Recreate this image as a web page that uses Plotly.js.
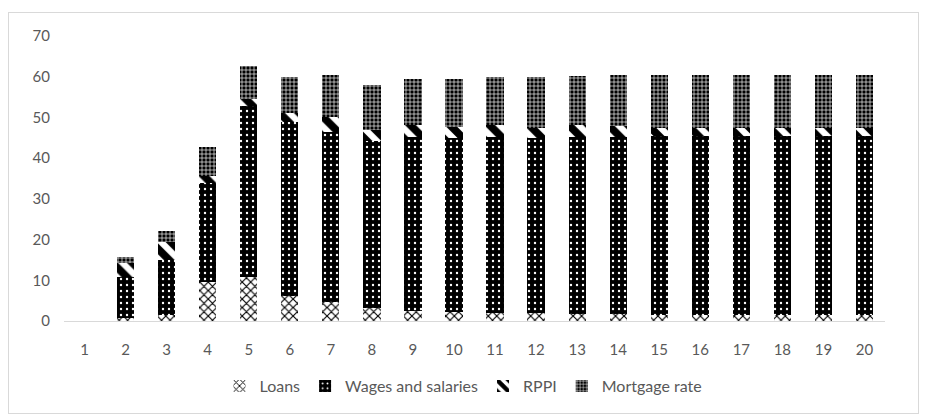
<!DOCTYPE html>
<html>
<head>
<meta charset="utf-8">
<script src="https://cdn.plot.ly/plotly-3.0.1.min.js"></script>
<style>
html,body{margin:0;padding:0;background:#fff;}
#frame{position:absolute;left:8px;top:12px;width:911px;height:402px;border:1px solid #d9d9d9;box-sizing:border-box;pointer-events:none;z-index:5;}
#chart{position:absolute;left:0;top:0;width:927px;height:418px;}
</style>
</head>
<body>
<div id="chart"></div>
<div id="frame"></div>
<script>
const categories = ["1","2","3","4","5","6","7","8","9","10","11","12","13","14","15","16","17","18","19","20"];
const loans    = [0, 0.7, 1.5, 9.5, 10.7, 6.1, 4.7, 3.3, 2.5, 2.1, 1.9, 1.9, 1.6, 1.6, 1.5, 1.5, 1.5, 1.5, 1.5, 1.5];
const wages    = [0, 10.1, 13.5, 24.3, 42.0, 42.9, 41.8, 40.8, 42.6, 42.8, 43.2, 43.0, 43.5, 43.5, 44.0, 44.0, 44.0, 44.0, 44.0, 44.0];
const rppi     = [0, 3.5, 4.5, 1.7, 1.8, 2.0, 3.7, 2.8, 3.1, 2.8, 3.1, 2.4, 3.1, 2.8, 2.0, 2.0, 2.0, 2.0, 2.0, 2.0];
const mortgage = [0, 1.4, 2.7, 7.3, 8.2, 9.0, 10.1, 11.1, 11.2, 11.8, 11.8, 12.6, 12.0, 12.4, 13.0, 13.0, 13.0, 13.0, 13.0, 13.0];
const yTicks = [0, 10, 20, 30, 40, 50, 60, 70];

const font = "Lato, 'Open Sans', sans-serif";

const traces = [
  {name: "Loans", x: categories, y: loans, type: "bar",
   marker: {color: "#ffffff", line: {width: 0},
            pattern: {shape: "x", fgcolor: "#000000", bgcolor: "#ffffff", size: 6, solidity: 0.35}}},
  {name: "Wages and salaries", x: categories, y: wages, type: "bar",
   marker: {color: "#000000", line: {width: 0},
            pattern: {shape: ".", fgcolor: "#ffffff", bgcolor: "#000000", size: 6, solidity: 0.12}}},
  {name: "RPPI", x: categories, y: rppi, type: "bar",
   marker: {color: "#ffffff", line: {width: 0},
            pattern: {shape: "\\", fgcolor: "#000000", bgcolor: "#ffffff", size: 14, solidity: 0.55}}},
  {name: "Mortgage rate", x: categories, y: mortgage, type: "bar",
   marker: {color: "#000000", line: {width: 0},
            pattern: {shape: "+", fgcolor: "#ffffff", bgcolor: "#000000", size: 4, solidity: 0.3}}}
];

const layout = {
  width: 927, height: 418,
  margin: {l: 64, r: 42, t: 36, b: 97, autoexpand: false},
  paper_bgcolor: "#ffffff", plot_bgcolor: "#ffffff",
  barmode: "stack", bargap: 0.58,
  font: {family: font, size: 15, color: "#595959"},
  showlegend: true,
  legend: {orientation: "h", x: 0.4866, xanchor: "center", y: -0.228, yanchor: "middle",
           font: {family: font, size: 16, color: "#595959"}, traceorder: "normal", itemwidth: 30,
           bgcolor: "rgba(0,0,0,0)"},
  xaxis: {type: "category", tickmode: "array", tickvals: categories, showgrid: false, showline: true,
          linecolor: "#d9d9d9", linewidth: 1, automargin: false,
          ticks: "", ticklabelstandoff: 15, tickfont: {family: font, size: 15, color: "#595959"}, zeroline: false},
  yaxis: {range: [0, 70], tickvals: yTicks, showgrid: false, showline: false, zeroline: false, automargin: false,
          ticks: "", ticklabelstandoff: 13, tickfont: {family: font, size: 15, color: "#595959"}}
};

Plotly.newPlot("chart", traces, layout, {displayModeBar: false, staticPlot: true});
</script>
</body>
</html>
